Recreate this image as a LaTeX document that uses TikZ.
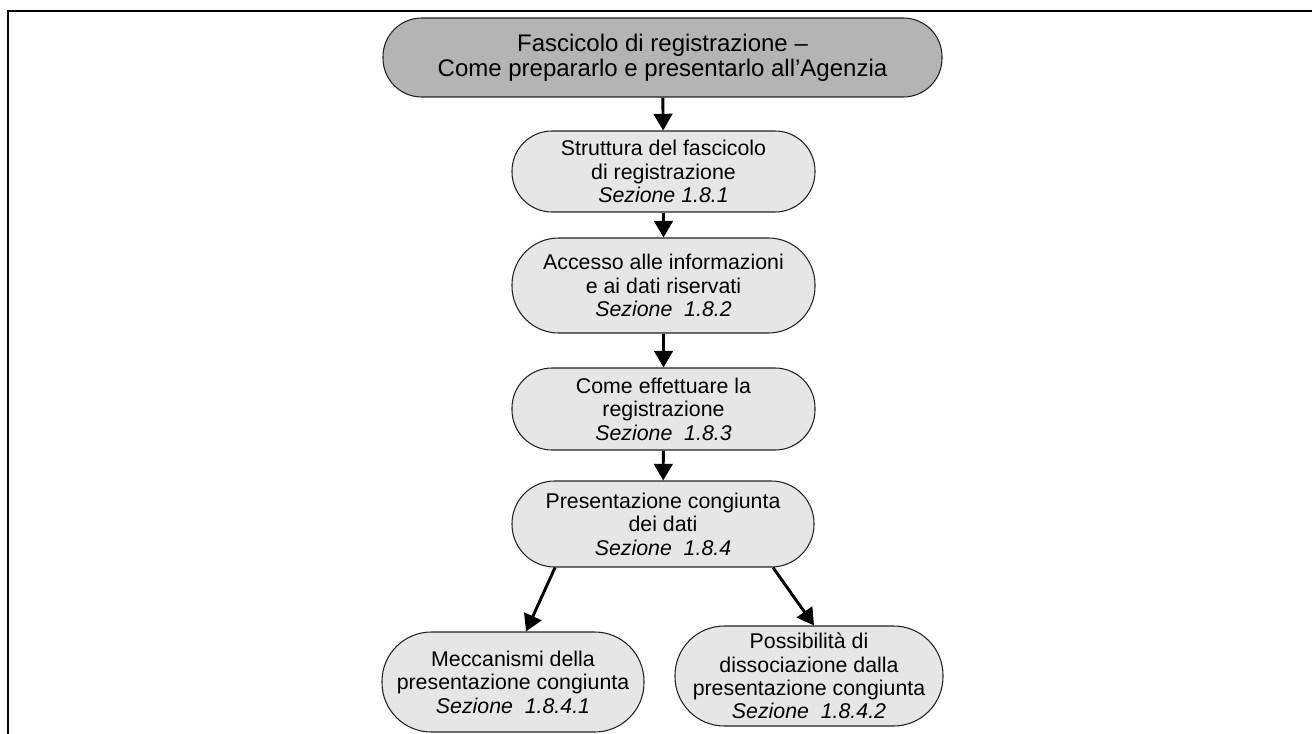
\documentclass[tikz,border=0pt]{standalone}
\usepackage{fontspec}
\setmainfont{Liberation Sans}
\usepackage{xcolor}
\usepackage{tikz}
\usetikzlibrary{arrows.meta,calc}
\definecolor{chead}{HTML}{B4B4B4}
\definecolor{cbox}{HTML}{E6E6E6}
\definecolor{cedge}{HTML}{222222}
\tikzset{>={Triangle[width=14pt,length=12.5pt]},arr/.style={->,line width=2.2pt},
  pill/.style={draw=cedge,line width=0.8pt,fill=cbox,rounded corners=#1,align=center,inner sep=0pt,font=\fontsize{16}{17.6}\selectfont},
  pill/.default=29pt,
  headpill/.style={pill=29pt,fill=chead,font=\fontsize{18}{18.75}\selectfont}}
\newcommand{\sez}[1]{\textit{Sezione\ \ #1}}

\begin{document}
\begin{tikzpicture}[x=0.75pt,y=-0.75pt]
\useasboundingbox (0,0) rectangle (1312,734);
% ===== frame (top and left edge only) =====
\draw[line width=1.5pt] (7.5,734) -- (7.5,11) -- (1312,11);

% ===== main chain =====
\node[headpill,minimum width=419.25pt,minimum height=59.25pt] (top) at (662.5,57.5)
  {Fascicolo di registrazione --\\ Come prepararlo e presentarlo all'Agenzia};
\node[pill=30pt,minimum width=227.25pt,minimum height=60.75pt] (strut) at (663.5,171.5)
  {Struttura del fascicolo\\ di registrazione\\ \textit{Sezione 1.8.1}};
\node[pill=35pt,minimum width=227.25pt,minimum height=71.25pt] (acc) at (663.5,285.5)
  {Accesso alle informazioni\\ e ai dati riservati\\ \sez{1.8.2}};
\node[pill=30pt,minimum width=227.25pt,minimum height=61.5pt] (reg) at (663.5,409)
  {Come effettuare la\\ registrazione\\ \sez{1.8.3}};
\node[pill=32pt,minimum width=226.5pt,minimum height=64.5pt] (cong) at (663,524)
  {Presentazione congiunta\\ dei dati\\ \sez{1.8.4}};

% ===== the two branches =====
\node[pill=37pt,minimum width=196.5pt,minimum height=75pt] (mecc) at (513,682)
  {Meccanismi della\\ presentazione congiunta\\ \sez{1.8.4.1}};
\node[pill=37pt,minimum width=201pt,minimum height=75pt] (diss) at (809,676)
  {Possibilità di\\ dissociazione dalla\\ presentazione congiunta\\ \sez{1.8.4.2}};

\draw[arr] (top) -- (strut);
\draw[arr] (strut) -- (acc);
\draw[arr] (acc) -- (reg);
\draw[arr] (reg) -- (cong);
\draw[arr] ($(cong.south)+(-108,0)$) -- ($(mecc.north)+(13,0)$);
\draw[arr] ($(cong.south)+(110,0)$) -- ($(diss.north)+(5,0)$);

\end{tikzpicture}
\end{document}
